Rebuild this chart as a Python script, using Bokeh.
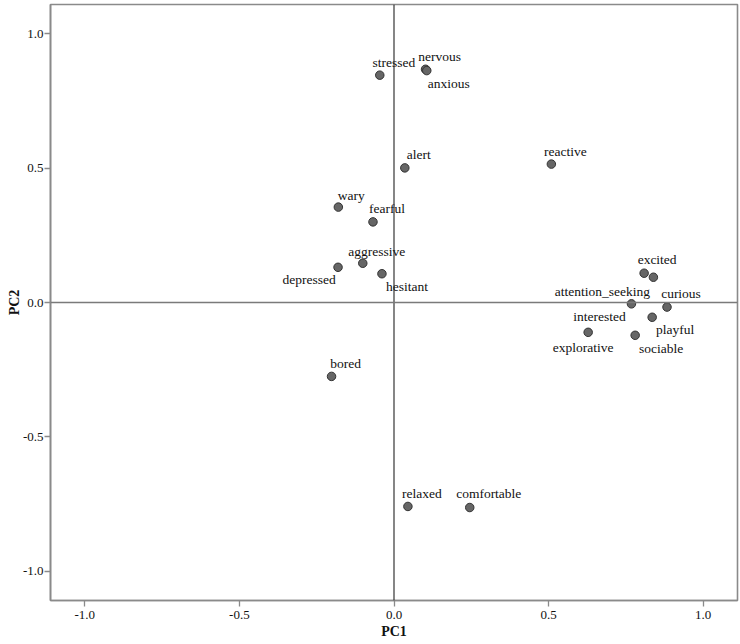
from bokeh.plotting import figure
from bokeh.models import ColumnDataSource, Range1d, FixedTicker, PrintfTickFormatter, Span
from bokeh.core.properties import value
from bokeh.embed import file_html
from bokeh.resources import INLINE

# ---- data ----
labels = ["stressed", "nervous", "anxious", "alert", "reactive", "wary", "fearful",
          "aggressive", "depressed", "hesitant", "excited", "attention_seeking",
          "interested", "curious", "playful", "explorative", "sociable", "bored",
          "relaxed", "comfortable"]
pc1 = [-0.046, 0.102, 0.106, 0.035, 0.509, -0.180, -0.068,
       -0.101, -0.181, -0.039, 0.809, 0.839,
       0.768, 0.883, 0.835, 0.628, 0.780, -0.202,
       0.045, 0.245]
pc2 = [0.846, 0.868, 0.863, 0.501, 0.515, 0.355, 0.300,
       0.146, 0.131, 0.107, 0.109, 0.094,
       -0.005, -0.017, -0.055, -0.111, -0.122, -0.275,
       -0.759, -0.763]
ticks = [-1.0, -0.5, 0.0, 0.5, 1.0]

# label placement (pixel offsets from each point; styling only)
label_dx = [14, 14, 22, 14, 14, 13, 14, 14, -29, 25, 13, -51, -32, 14, 23, -5, 26, 14, 14, 19]
label_dy = [-13, -13, 13, -13, -13, -12, -13, -12, 12, 13, -14, 14, 13, -14, 12, 15, 13, -13, -13, -14]

src = ColumnDataSource(dict(x=pc1, y=pc2, label=labels, dx=label_dx, dy=label_dy))

FONT = "Liberation Serif"
GRAY = "#8a8a8a"

p = figure(width=739, height=642, output_backend="svg", toolbar_location=None,
           x_range=Range1d(-1.111, 1.111), y_range=Range1d(-1.109, 1.109),
           min_border_left=50, min_border_right=2, min_border_top=4, min_border_bottom=42)
p.background_fill_color = "white"
p.border_fill_color = "white"
p.outline_line_color = GRAY
p.outline_line_width = 1.6
p.grid.visible = False

for ax in (p.xaxis[0], p.yaxis[0]):
    ax.ticker = FixedTicker(ticks=ticks)
    ax.formatter = PrintfTickFormatter(format="%.1f")
    ax.axis_line_color = GRAY
    ax.axis_line_width = 1.6
    ax.major_tick_line_color = GRAY
    ax.major_tick_line_width = 1.3
    ax.major_tick_in = 0
    ax.major_tick_out = 6
    ax.minor_tick_line_color = None
    ax.major_label_text_font = FONT
    ax.major_label_text_font_size = "13px"
    ax.major_label_text_color = "#111111"
    ax.axis_label_text_font = FONT
    ax.axis_label_text_font_size = "14px"
    ax.axis_label_text_font_style = "bold"
    ax.axis_label_text_color = "#111111"

p.xaxis.axis_label = "PC1"
p.yaxis.axis_label = "PC2"
p.xaxis.major_label_standoff = 4
p.xaxis.axis_label_standoff = 2
p.yaxis.major_label_standoff = 1
p.yaxis.axis_label_standoff = -2

p.add_layout(Span(location=0, dimension="height", line_color="#222222", line_width=1.1))
p.add_layout(Span(location=0, dimension="width", line_color="#7a7a7a", line_width=1.3))

p.scatter("x", "y", source=src, size=8.5, fill_color="#666666",
          line_color="#333333", line_width=1)
p.text("x", "y", text="label", source=src, x_offset="dx", y_offset="dy",
       text_align="center", text_baseline="middle", text_font=value(FONT),
       text_font_size="13.5px", text_color="#111111")

open("out.html", "w").write(file_html(p, INLINE))
